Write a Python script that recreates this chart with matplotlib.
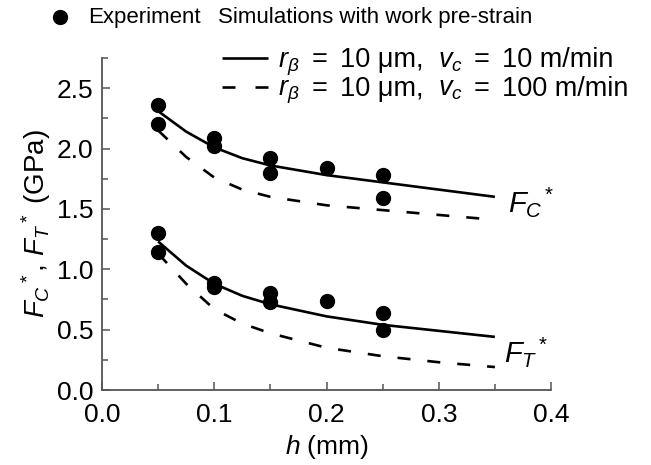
import matplotlib
matplotlib.use("Agg")
import matplotlib.pyplot as plt
from matplotlib.lines import Line2D

plt.rcParams['font.family'] = ['Liberation Sans', 'DejaVu Sans']
plt.rcParams['mathtext.fontset'] = 'custom'
plt.rcParams['mathtext.rm'] = 'Liberation Sans'
plt.rcParams['mathtext.it'] = 'Liberation Sans:italic'
plt.rcParams['mathtext.bf'] = 'Liberation Sans:bold'

# Experimental data
exp_h = [0.05, 0.05, 0.10, 0.10, 0.15, 0.15, 0.20, 0.25, 0.25]
exp_fc = [2.36, 2.20, 2.09, 2.02, 1.92, 1.80, 1.84, 1.78, 1.59]
exp_ft = [1.30, 1.14, 0.89, 0.85, 0.80, 0.73, 0.74, 0.64, 0.50]

# Simulations
sim_h = [0.05, 0.075, 0.10, 0.125, 0.15, 0.20, 0.25, 0.30, 0.35]
fc_10 = [2.31, 2.14, 2.01, 1.92, 1.86, 1.78, 1.72, 1.66, 1.60]
fc_100 = [2.15, 1.93, 1.76, 1.66, 1.60, 1.53, 1.49, 1.45, 1.41]
ft_10 = [1.23, 1.03, 0.88, 0.78, 0.71, 0.61, 0.54, 0.49, 0.44]
ft_100 = [1.13, 0.88, 0.67, 0.55, 0.47, 0.35, 0.28, 0.23, 0.19]

W, H = 651, 465
fig = plt.figure(figsize=(W / 100, H / 100), dpi=100)
ax = fig.add_axes([102 / W, 1 - 390 / H, (551 - 102) / W, (390 - 58) / H])

lw = 1.9
dash = (0, (13 * 0.72 / lw, 17 * 0.72 / lw))
ax.plot(sim_h, fc_10, color='black', lw=lw, solid_capstyle='butt')
ax.plot(sim_h, fc_100, color='black', lw=lw, ls=dash, dash_capstyle='butt')
ax.plot(sim_h, ft_10, color='black', lw=lw, solid_capstyle='butt')
ax.plot(sim_h, ft_100, color='black', lw=lw, ls=dash, dash_capstyle='butt')
ax.plot(exp_h, exp_fc, 'o', color='black', ms=10, zorder=5)
ax.plot(exp_h, exp_ft, 'o', color='black', ms=10, zorder=5)

ax.set_xlim(0, 0.4)
ax.set_ylim(0, 2.75)
ax.set_xticks([0.0, 0.1, 0.2, 0.3, 0.4])
ax.set_xticks([0.05, 0.15, 0.25, 0.35], minor=True)
ax.set_yticks([0.0, 0.5, 1.0, 1.5, 2.0, 2.5])
ax.set_yticks([0.25, 0.75, 1.25, 1.75, 2.25, 2.75], minor=True)
ax.set_xticklabels(['0.0', '0.1', '0.2', '0.3', '0.4'])
ax.set_yticklabels(['0.0', '0.5', '1.0', '1.5', '2.0', '2.5'])

spc = '#555555'
for s in ['top', 'right']:
    ax.spines[s].set_visible(False)
for s in ['left', 'bottom']:
    ax.spines[s].set_color(spc)
    ax.spines[s].set_linewidth(1.3)
ax.tick_params(which='both', direction='in', color=spc, width=1.1, labelsize=19, labelcolor='black')
ax.tick_params(which='major', length=6)
ax.tick_params(which='minor', length=4)
ax.tick_params(axis='y', which='major', pad=6)
ax.tick_params(axis='x', which='major', pad=9)

ax.set_xlabel(r'$h$ (mm)', fontsize=19, labelpad=5)
ax.set_ylabel(r'$F_C$$^*$, $F_T$$^*$ (GPa)', fontsize=20, labelpad=3)

ax.text(0.362, 1.555, r'$F_C$$^*$', fontsize=21, va='center', ha='left')
ax.text(0.358, 0.315, r'$F_T$$^*$', fontsize=21, va='center', ha='left')

# Legend (drawn manually in figure coordinates)
def fx(px):
    return px / W

def fy(py):
    return 1 - py / H

fs = 16
fig.add_artist(Line2D([fx(60)], [fy(17)], marker='o', color='black', ms=10, transform=fig.transFigure))
fig.text(fx(88), fy(17), 'Experiment', fontsize=fs, va='center', ha='left')
fig.text(fx(218), fy(17), 'Simulations with work pre-strain', fontsize=fs, va='center', ha='left')
fig.add_artist(Line2D([fx(222), fx(268)], [fy(58), fy(58)], color='black', lw=lw,
                      solid_capstyle='butt', transform=fig.transFigure))
fig.add_artist(Line2D([fx(222), fx(268)], [fy(87), fy(87)], color='black', lw=lw,
                      ls=(0, (13 * 0.72 / lw, 20 * 0.72 / lw)), dash_capstyle='butt',
                      transform=fig.transFigure))

fs2 = 19.5
xs = [278, 312, 340, 438, 474, 502]
row2 = [r'$r_\beta$', '=', '10 μm,', r'$v_c$', '=', '10 m/min']
row3 = [r'$r_\beta$', '=', '10 μm,', r'$v_c$', '=', '100 m/min']
for x, t in zip(xs, row2):
    fig.text(fx(x), fy(67), t, fontsize=fs2, va='baseline', ha='left')
for x, t in zip(xs, row3):
    fig.text(fx(x), fy(96), t, fontsize=fs2, va='baseline', ha='left')

fig.savefig('out.png', dpi=100)
